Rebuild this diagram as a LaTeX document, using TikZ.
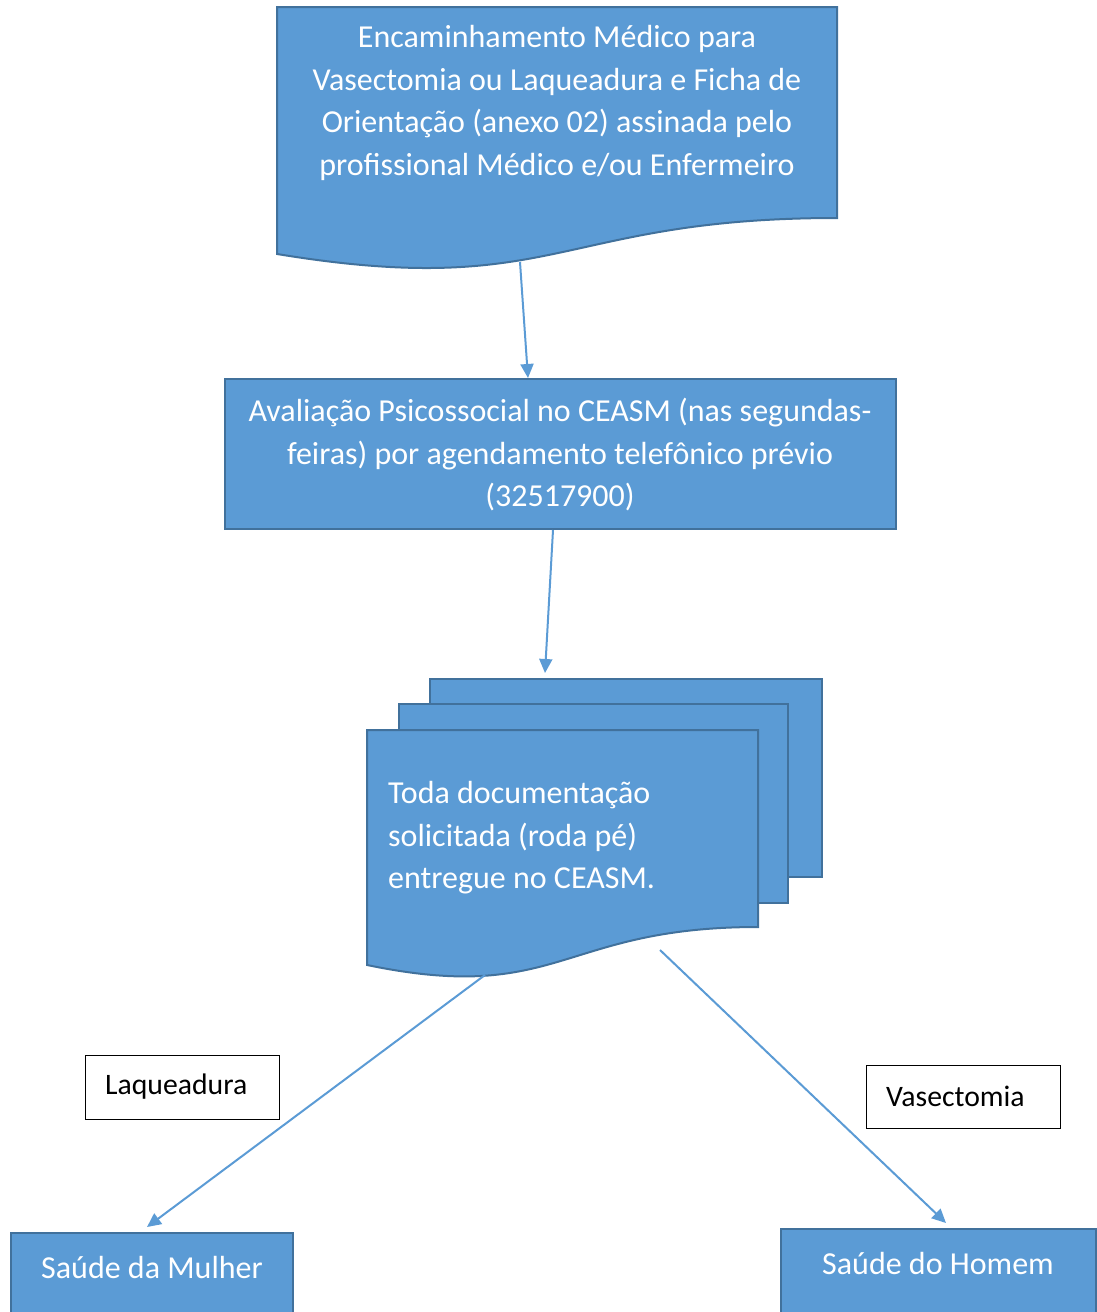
\documentclass[tikz,border=0pt]{standalone}
\usepackage{fontspec}
\setmainfont{Carlito}
\usetikzlibrary{arrows.meta}
\definecolor{boxfill}{HTML}{5B9BD5}
\definecolor{boxline}{HTML}{41719C}
\tikzset{
  bluebox/.style={fill=boxfill, draw=boxline, line width=2pt},
  wtext/.style={text=white, font=\fontsize{32}{42.5}\selectfont, inner sep=0pt},
  btext/.style={text=black, font=\fontsize{29.7}{34}\selectfont, inner sep=0pt},
  labelbox/.style={draw=black, line width=1pt, fill=white},
  conn/.style={draw=boxfill, line width=2pt, -{Triangle[length=14pt,width=13pt]}},
}
\begin{document}
\begin{tikzpicture}[x=1pt,y=-1pt]
\useasboundingbox (0,0) rectangle (1097,1312);
\clip (0,0) rectangle (1097,1312);
% document 1
\draw[bluebox] (277,7) -- (837,7) -- (837,218) .. controls (557,218) and (557,300) .. (277,254) -- cycle;
\node[wtext, align=center] (d1) at (557,103) {Encaminhamento Médico para\\Vasectomia ou Laqueadura e Ficha de\\Orientação (anexo 02) assinada pelo\\profissional Médico e/ou Enfermeiro};
\coordinate (d1out) at (520,262);
% box 2
\node[bluebox, minimum width=671pt, minimum height=150pt, inner sep=0pt] (b2) at (560.5,454) {};
\node[wtext, align=center] (b2t) at (560,455) {Avaliação Psicossocial no CEASM (nas segundas-\\feiras) por agendamento telefônico prévio\\(32517900)};
% multi-document
\draw[bluebox] (430,679) rectangle (822,877);
\draw[bluebox] (399,704) rectangle (788,903);
\draw[bluebox] (367,730) -- (758,730) -- (758,927) .. controls (560,927) and (560,1005) .. (367,965) -- cycle;
\node[wtext, align=left, anchor=west] (d3) at (388,838) {Toda documentação\\solicitada (roda pé)\\entregue no CEASM.};
\coordinate (d3in) at (545,673);
\coordinate (d3l) at (485,975);
\coordinate (d3r) at (660,950);
% labels
\node[labelbox, minimum width=194pt, minimum height=64pt] (lq) at (182,1087) {};
\node[btext, anchor=west] at (105,1087) {Laqueadura};
\node[labelbox, minimum width=194pt, minimum height=63pt] (vs) at (963,1096.5) {};
\node[btext, anchor=west] at (886,1096) {Vasectomia};
% bottom boxes
\draw[bluebox] (11,1340) -- (11,1233) -- (293,1233) -- (293,1340);
\node[wtext] (sm) at (152,1267) {Saúde da Mulher};
\coordinate (smin) at (147,1227);
\draw[bluebox] (781,1340) -- (781,1229) -- (1096,1229) -- (1096,1340);
\node[wtext] (sh) at (938,1263) {Saúde do Homem};
\coordinate (shin) at (946,1223);
% connectors
\draw[conn] (d1out) -- (b2.north -| 528,0) ;
\draw[conn] (b2.south -| 553,0) -- (d3in);
\draw[conn] (d3l) -- (smin);
\draw[conn] (d3r) -- (shin);
\end{tikzpicture}
\end{document}
